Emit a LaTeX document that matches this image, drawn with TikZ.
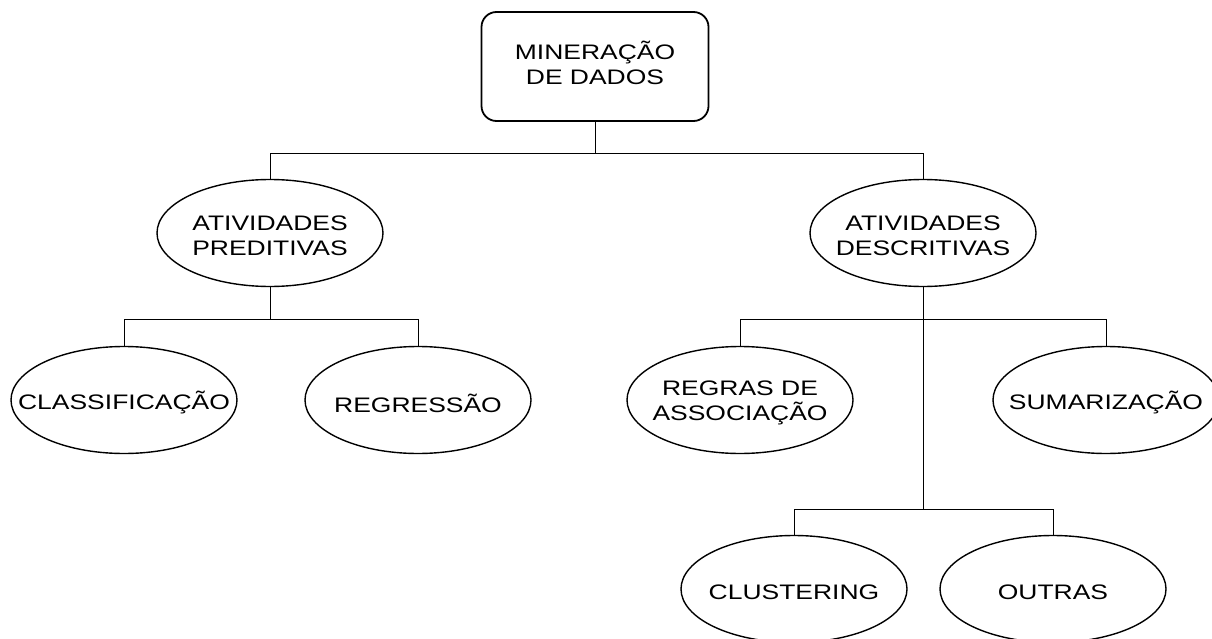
\documentclass[tikz,border=0pt]{standalone}
\usepackage{fontspec}
\setmainfont{Liberation Sans}[FakeStretch=1.26]
\usetikzlibrary{shapes.geometric}

\tikzset{
  txt/.style={font=\fontsize{21}{24.5}\selectfont, align=center, inner sep=0pt},
  rootbox/.style={draw, line width=1.8pt, rounded corners=15pt, minimum width=227pt, minimum height=109pt, txt},
  elps/.style={draw, ellipse, line width=1.4pt, minimum width=226pt, minimum height=107pt, inner sep=0pt},
  lbl/.style={txt, yshift=-3pt},
  conn/.style={line width=1pt}
}

\begin{document}
\begin{tikzpicture}[x=1pt, y=-1pt]
\useasboundingbox (0,0) rectangle (1212,639);

% Root
\node[rootbox] (root) at (595,66.5) {\raisebox{-4pt}{\begin{tabular}{@{}c@{}}MINERAÇÃO\\[0.5pt]DE DADOS\end{tabular}}};

% Activities
\node[elps, label={[lbl]center:ATIVIDADES\\PREDITIVAS}] (pred) at (270,233) {};
\node[elps, label={[lbl]center:ATIVIDADES\\DESCRITIVAS}] (desc) at (923,233) {};

% Predictive tasks
\node[elps, label={[lbl]center:CLASSIFICAÇÃO}] (clas) at (124,400) {};
\node[elps, label={[lbl]center:REGRESSÃO}] (regr) at (418,400) {};

% Descriptive tasks
\node[elps, label={[lbl]center:REGRAS DE\\ASSOCIAÇÃO}] (assoc) at (740,400) {};
\node[elps, label={[lbl]center:SUMARIZAÇÃO}] (sumar) at (1106,400) {};
\node[elps, label={[lbl]center:CLUSTERING}] (clus) at (794,589) {};
\node[elps, label={[lbl]center:OUTRAS}] (outr) at (1053,589) {};

% Connectors
\draw[conn] (root.south) -- ++(0,32) coordinate (b1);
\draw[conn] (pred.north) |- (b1) -| (desc.north);
\draw[conn] (pred.south) -- ++(0,32) coordinate (b2);
\draw[conn] (clas.north) |- (b2) -| (regr.north);
\draw[conn] (desc.south) -- ++(0,32) coordinate (b3);
\draw[conn] (assoc.north) |- (b3) -| (sumar.north);
\draw[conn] (b3) -- ++(0,190) coordinate (b4);
\draw[conn] (clus.north) |- (b4) -| (outr.north);
\end{tikzpicture}
\end{document}
